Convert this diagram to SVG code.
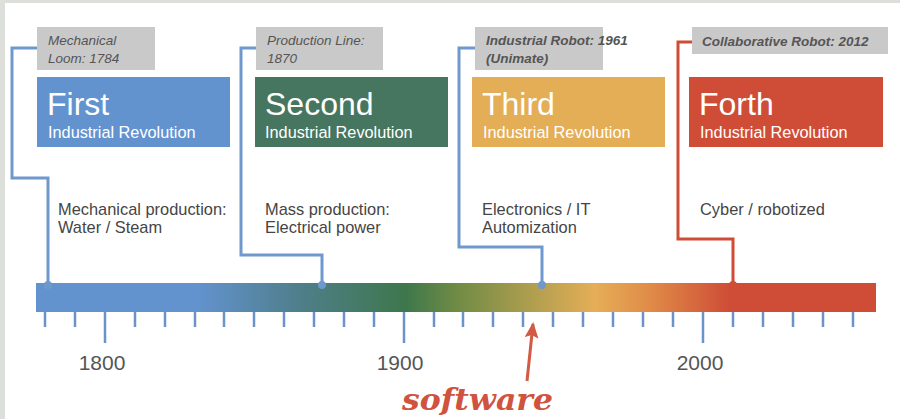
<svg xmlns="http://www.w3.org/2000/svg" width="900" height="419" viewBox="0 0 900 419">
  <defs>
    <linearGradient id="era" x1="36" y1="0" x2="876" y2="0" gradientUnits="userSpaceOnUse">
      <stop offset="0" stop-color="#6393cf"/>
      <stop offset="0.19" stop-color="#6393cf"/>
      <stop offset="0.31" stop-color="#4f7f8c"/>
      <stop offset="0.44" stop-color="#3e774c"/>
      <stop offset="0.50" stop-color="#6f8b45"/>
      <stop offset="0.665" stop-color="#e5ae57"/>
      <stop offset="0.73" stop-color="#e08c48"/>
      <stop offset="0.825" stop-color="#cf4d37"/>
      <stop offset="1" stop-color="#cf4d37"/>
    </linearGradient>
    <marker id="arrowhead" viewBox="0 0 16 14" refX="14" refY="7" markerWidth="16" markerHeight="14" orient="auto" markerUnits="userSpaceOnUse">
      <path d="M0,0 L16,7 L0,14 L3,7 z" fill="#d35a45"/>
    </marker>
    <style>
      .tag { fill: #c9c9c9; }
      .tagtxt { font-family: "Liberation Sans", Arial, sans-serif; font-size: 13.5px; font-style: italic; fill: #555; }
      .tagtxt.b { font-weight: bold; }
      .head { font-family: "Liberation Sans", Arial, sans-serif; font-size: 32px; fill: #fff; }
      .sub { font-family: "Liberation Sans", Arial, sans-serif; font-size: 16.3px; fill: #fff; }
      .desc { font-family: "Liberation Sans", Arial, sans-serif; font-size: 16.4px; fill: #454545; }
      .year { font-family: "Liberation Sans", Arial, sans-serif; font-size: 21px; fill: #555; text-anchor: middle; }
      .link { fill: none; stroke-width: 3; stroke-linejoin: miter; }
      .blue { stroke: #6f98cc; }
      .red { stroke: #cf4d37; }
      .tick { stroke: #6b93c8; stroke-width: 2.5; }
    </style>
  </defs>

  <!-- page frame -->
  <rect x="0" y="0" width="900" height="419" fill="#ffffff"/>
  <rect x="0" y="0" width="900" height="3" fill="#dde0da"/>
  <rect x="0" y="0" width="5" height="419" fill="#dde0da"/>

  <!-- connectors from milestone tags to the timeline -->
  <g id="connectors">
    <path class="link blue" d="M37 48 H12 V178 H48 V285"/>
    <path class="link blue" d="M256 48 H241 V255 H322 V285"/>
    <path class="link blue" d="M475 48 H459 V247 H542 V285"/>
    <path class="link red" d="M692 42 H678 V239 H733 V285"/>
  </g>

  <!-- revolutions -->
  <g id="first">
    <rect class="tag" x="37" y="27" width="118" height="43"/>
    <text class="tagtxt" x="48" y="45">Mechanical</text>
    <text class="tagtxt" x="48" y="63">Loom: 1784</text>
    <rect x="37" y="77" width="193" height="70" fill="#6393cf"/>
    <text class="head" x="47" y="115">First</text>
    <text class="sub" x="48" y="138">Industrial Revolution</text>
    <text class="desc" x="58" y="215">Mechanical production:</text>
    <text class="desc" x="58" y="233">Water / Steam</text>
  </g>

  <g id="second">
    <rect class="tag" x="256" y="27" width="127" height="43"/>
    <text class="tagtxt" x="267" y="45">Production Line:</text>
    <text class="tagtxt" x="267" y="63">1870</text>
    <rect x="255" y="77" width="193" height="70" fill="#467560"/>
    <text class="head" x="265" y="115">Second</text>
    <text class="sub" x="265" y="138">Industrial Revolution</text>
    <text class="desc" x="265" y="215">Mass production:</text>
    <text class="desc" x="265" y="233">Electrical power</text>
  </g>

  <g id="third">
    <rect class="tag" x="475" y="27" width="128" height="43"/>
    <text class="tagtxt b" x="486" y="45">Industrial Robot: 1961</text>
    <text class="tagtxt b" x="486" y="63">(Unimate)</text>
    <rect x="472" y="77" width="193" height="70" fill="#e4ae57"/>
    <text class="head" x="482" y="115">Third</text>
    <text class="sub" x="483" y="138">Industrial Revolution</text>
    <text class="desc" x="482" y="215">Electronics / IT</text>
    <text class="desc" x="482" y="233">Automization</text>
  </g>

  <g id="fourth">
    <rect class="tag" x="692" y="27" width="196" height="27"/>
    <text class="tagtxt b" x="702" y="46">Collaborative Robot: 2012</text>
    <rect x="689" y="77" width="194" height="70" fill="#cf4d37"/>
    <text class="head" x="699" y="115">Forth</text>
    <text class="sub" x="700" y="138">Industrial Revolution</text>
    <text class="desc" x="700" y="215">Cyber / robotized</text>
  </g>

  <!-- timeline -->
  <g id="timeline">
    <rect x="36" y="283" width="840" height="29" fill="url(#era)"/>
    <g class="ticks">
      <line class="tick" x1="45" y1="312" x2="45" y2="327"/>
      <line class="tick" x1="75" y1="312" x2="75" y2="327"/>
      <line class="tick" x1="105" y1="312" x2="105" y2="343"/>
      <line class="tick" x1="135" y1="312" x2="135" y2="327"/>
      <line class="tick" x1="165" y1="312" x2="165" y2="327"/>
      <line class="tick" x1="195" y1="312" x2="195" y2="327"/>
      <line class="tick" x1="224" y1="312" x2="224" y2="327"/>
      <line class="tick" x1="254" y1="312" x2="254" y2="327"/>
      <line class="tick" x1="284" y1="312" x2="284" y2="327"/>
      <line class="tick" x1="314" y1="312" x2="314" y2="327"/>
      <line class="tick" x1="344" y1="312" x2="344" y2="327"/>
      <line class="tick" x1="374" y1="312" x2="374" y2="327"/>
      <line class="tick" x1="404" y1="312" x2="404" y2="343"/>
      <line class="tick" x1="434" y1="312" x2="434" y2="327"/>
      <line class="tick" x1="463" y1="312" x2="463" y2="327"/>
      <line class="tick" x1="493" y1="312" x2="493" y2="327"/>
      <line class="tick" x1="523" y1="312" x2="523" y2="327"/>
      <line class="tick" x1="553" y1="312" x2="553" y2="327"/>
      <line class="tick" x1="583" y1="312" x2="583" y2="327"/>
      <line class="tick" x1="613" y1="312" x2="613" y2="327"/>
      <line class="tick" x1="643" y1="312" x2="643" y2="327"/>
      <line class="tick" x1="673" y1="312" x2="673" y2="327"/>
      <line class="tick" x1="703" y1="312" x2="703" y2="343"/>
      <line class="tick" x1="733" y1="312" x2="733" y2="327"/>
      <line class="tick" x1="763" y1="312" x2="763" y2="327"/>
      <line class="tick" x1="793" y1="312" x2="793" y2="327"/>
      <line class="tick" x1="823" y1="312" x2="823" y2="327"/>
      <line class="tick" x1="853" y1="312" x2="853" y2="327"/>
    </g>
    <circle cx="48" cy="285" r="4" fill="#6f98cc"/>
    <circle cx="322" cy="285" r="4" fill="#6f98cc"/>
    <circle cx="542" cy="285" r="4" fill="#6f98cc"/>
    <circle cx="733" cy="285" r="4" fill="#cf4d37"/>
    <text class="year" x="102" y="370">1800</text>
    <text class="year" x="400" y="370">1900</text>
    <text class="year" x="700" y="370">2000</text>
  </g>

  <!-- software callout -->
  <g id="software">
    <line x1="527" y1="381" x2="533" y2="324" stroke="#d35a45" stroke-width="3" marker-end="url(#arrowhead)"/>
    <text x="402" y="410" font-family="'DejaVu Serif', 'Liberation Serif', serif" font-weight="bold" font-style="italic" font-size="29" fill="#cf533e" textLength="151" lengthAdjust="spacingAndGlyphs">software</text>
  </g>
</svg>
